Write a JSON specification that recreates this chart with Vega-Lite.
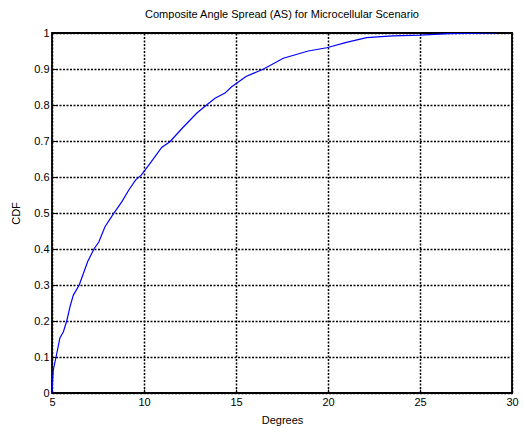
{
  "$schema": "https://vega.github.io/schema/vega-lite/v6.json",
  "width": 460,
  "height": 360,
  "autosize": "none",
  "padding": {"left": 52, "top": 33, "right": 11, "bottom": 40},
  "background": "white",
  "title": {
    "text": "Composite Angle Spread (AS) for Microcellular Scenario",
    "font": "Liberation Sans",
    "fontSize": 11,
    "fontWeight": "normal",
    "color": "#000000",
    "offset": 7
  },
  "data": {
    "values": [
      {"degrees": 5.0, "cdf": 0.0},
      {"degrees": 5.03, "cdf": 0.03},
      {"degrees": 5.07, "cdf": 0.064},
      {"degrees": 5.22, "cdf": 0.1},
      {"degrees": 5.43, "cdf": 0.153},
      {"degrees": 5.62, "cdf": 0.17},
      {"degrees": 5.8, "cdf": 0.2},
      {"degrees": 5.98, "cdf": 0.24},
      {"degrees": 6.16, "cdf": 0.272},
      {"degrees": 6.48, "cdf": 0.3},
      {"degrees": 6.94, "cdf": 0.365},
      {"degrees": 7.28, "cdf": 0.4},
      {"degrees": 7.55, "cdf": 0.42},
      {"degrees": 7.88, "cdf": 0.462},
      {"degrees": 8.3, "cdf": 0.495},
      {"degrees": 8.79, "cdf": 0.531},
      {"degrees": 9.2, "cdf": 0.566},
      {"degrees": 9.55, "cdf": 0.592},
      {"degrees": 9.85, "cdf": 0.605},
      {"degrees": 10.33, "cdf": 0.638},
      {"degrees": 10.96, "cdf": 0.682},
      {"degrees": 11.41, "cdf": 0.698},
      {"degrees": 12.05, "cdf": 0.734},
      {"degrees": 12.86, "cdf": 0.777},
      {"degrees": 13.4, "cdf": 0.8},
      {"degrees": 13.86, "cdf": 0.819},
      {"degrees": 14.4, "cdf": 0.833},
      {"degrees": 14.75, "cdf": 0.85},
      {"degrees": 15.54, "cdf": 0.879},
      {"degrees": 16.5, "cdf": 0.9},
      {"degrees": 17.57, "cdf": 0.93},
      {"degrees": 18.93, "cdf": 0.95},
      {"degrees": 19.93, "cdf": 0.959},
      {"degrees": 21.0, "cdf": 0.974},
      {"degrees": 22.1, "cdf": 0.987},
      {"degrees": 23.5, "cdf": 0.992},
      {"degrees": 25.0, "cdf": 0.994},
      {"degrees": 26.6, "cdf": 0.998},
      {"degrees": 29.2, "cdf": 1.0}
    ]
  },
  "mark": {"type": "line", "color": "#0000ff", "strokeWidth": 1.2, "clip": true},
  "encoding": {
    "x": {
      "field": "degrees",
      "type": "quantitative",
      "scale": {"domain": [5, 30], "nice": false, "zero": false},
      "axis": {
        "title": "Degrees",
        "values": [5, 10, 15, 20, 25, 30],
        "labelFlush": false,
        "titlePadding": 7
      }
    },
    "y": {
      "field": "cdf",
      "type": "quantitative",
      "scale": {"domain": [0, 1], "nice": false},
      "axis": {
        "title": "CDF",
        "values": [0, 0.1, 0.2, 0.3, 0.4, 0.5, 0.6, 0.7, 0.8, 0.9, 1],
        "format": "~g",
        "labelFlush": false,
        "titlePadding": 12
      }
    }
  },
  "config": {
    "view": {"stroke": "#000000", "strokeWidth": 1.8},
    "axis": {
      "domain": false,
      "grid": true,
      "gridColor": "#000000",
      "gridDash": [2, 1.5],
      "gridWidth": 1.5,
      "gridOpacity": 1,
      "ticks": true,
      "tickSize": -4,
      "tickColor": "#000000",
      "labelFont": "Liberation Sans",
      "labelFontSize": 11,
      "labelColor": "#000000",
      "labelPadding": 7,
      "titleFont": "Liberation Sans",
      "titleFontSize": 11,
      "titleFontWeight": "normal",
      "titleColor": "#000000"
    }
  }
}
